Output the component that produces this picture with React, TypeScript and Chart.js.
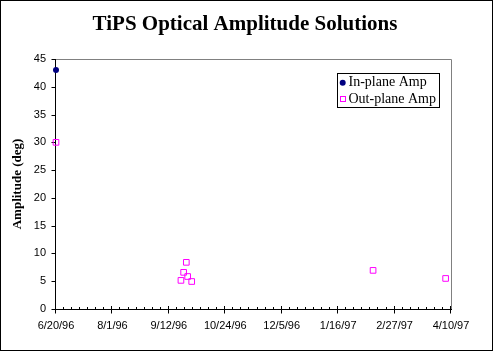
import React, { useEffect, useRef } from 'react';
import { Chart, registerables } from 'chart.js';

Chart.register(...registerables);

const titleText = 'TiPS Optical Amplitude Solutions';
const yAxisTitle = 'Amplitude (deg)';
const xTickLabels = ['6/20/96', '8/1/96', '9/12/96', '10/24/96', '12/5/96', '1/16/97', '2/27/97', '4/10/97'];
const yMin = 0;
const yMax = 45;
const yStep = 5;
const xMajorDays = 42;
const xMinorDays = 6;

const inPlaneLabel = 'In-plane Amp';
const inPlaneDates = ['6/20/96'];
const inPlaneAmp = [43];

const outPlaneLabel = 'Out-plane Amp';
const outPlaneDates = ['6/20/96', '9/21/96', '9/23/96', '9/25/96', '9/26/96', '9/29/96', '2/11/97', '4/6/97'];
const outPlaneAmp = [30, 5.15, 6.6, 8.4, 5.85, 4.95, 6.95, 5.5];

const IN_COLOR = '#000080';
const OUT_COLOR = '#FF00FF';

function toUTC(s: string): number {
  const [m, d, y] = s.split('/').map(Number);
  return Date.UTC(1900 + y, m - 1, d);
}
const baseUTC = toUTC(xTickLabels[0]);
function dayIndex(s: string): number {
  return Math.round((toUTC(s) - baseUTC) / 86400000);
}

const serif = '"Liberation Serif", "Times New Roman", serif';
const sans = '"Liberation Sans", Arial, sans-serif';

const decorPlugin = {
  id: 'decor',
  beforeDatasetsDraw(chart: any) {
    const { ctx, chartArea: a, scales } = chart;
    const x = scales.x;
    const y = scales.y;
    ctx.save();
    ctx.lineWidth = 1;
    // gray frame top & right
    ctx.strokeStyle = '#808080';
    ctx.beginPath();
    ctx.moveTo(a.left, Math.round(a.top) + 0.5);
    ctx.lineTo(Math.round(a.right) + 0.5, Math.round(a.top) + 0.5);
    ctx.lineTo(Math.round(a.right) + 0.5, Math.round(a.bottom));
    ctx.stroke();
    // axes
    ctx.strokeStyle = '#000';
    const lx = Math.round(a.left) - 0.5;
    const by = Math.round(a.bottom) + 0.5;
    ctx.beginPath();
    ctx.moveTo(lx, Math.round(a.top));
    ctx.lineTo(lx, by);
    ctx.lineTo(Math.round(a.right) + 1, by);
    ctx.stroke();
    // y ticks
    ctx.beginPath();
    for (let v = yMin; v <= yMax; v += yStep) {
      const py = Math.round(y.getPixelForValue(v)) + 0.5;
      ctx.moveTo(lx - 4, py);
      ctx.lineTo(lx, py);
    }
    // x ticks
    const maxDay = (xTickLabels.length - 1) * xMajorDays;
    for (let d = 0; d <= maxDay; d += xMinorDays) {
      const px = Math.round(x.getPixelForValue(d)) - 0.5;
      if (d % xMajorDays === 0) {
        ctx.moveTo(px, by - 3.5);
        ctx.lineTo(px, by + 4);
      } else {
        ctx.moveTo(px, by - 2.5);
        ctx.lineTo(px, by);
      }
    }
    ctx.stroke();
    ctx.restore();
  },
  afterDraw(chart: any) {
    const { ctx, width, height } = chart;
    ctx.save();
    // outer border
    ctx.strokeStyle = '#000';
    ctx.lineWidth = 1;
    ctx.strokeRect(0.5, 0.5, width - 1, height - 1);
    // title
    ctx.fillStyle = '#000';
    ctx.font = `bold 21px ${serif}`;
    ctx.textAlign = 'center';
    ctx.textBaseline = 'alphabetic';
    ctx.fillText(titleText, 245, 30);
    // y axis title
    ctx.save();
    ctx.translate(21, 184);
    ctx.rotate(-Math.PI / 2);
    ctx.font = `bold 13px ${serif}`;
    ctx.textAlign = 'center';
    ctx.fillText(yAxisTitle, 0, 0);
    ctx.restore();
    // legend
    ctx.fillStyle = '#fff';
    ctx.fillRect(338, 74, 101, 33);
    ctx.strokeStyle = '#000';
    ctx.strokeRect(337.5, 73.5, 102, 34);
    ctx.fillStyle = IN_COLOR;
    ctx.beginPath();
    ctx.arc(342.7, 82.7, 3, 0, Math.PI * 2);
    ctx.fill();
    ctx.strokeStyle = OUT_COLOR;
    ctx.strokeRect(340.5, 96.5, 5, 5);
    ctx.fillStyle = '#000';
    ctx.font = `14px ${serif}`;
    ctx.textAlign = 'left';
    ctx.fillText(inPlaneLabel, 348.5, 86);
    ctx.fillText(outPlaneLabel, 348.5, 102.5);
    ctx.restore();
  },
};

export default function App() {
  const canvasRef = useRef<HTMLCanvasElement | null>(null);

  useEffect(() => {
    const canvas = canvasRef.current;
    if (!canvas) return;
    const chart = new Chart(canvas, {
      type: 'scatter',
      data: {
        datasets: [
          {
            label: inPlaneLabel,
            data: inPlaneDates.map((d, i) => ({ x: dayIndex(d), y: inPlaneAmp[i] })),
            pointStyle: 'circle',
            pointRadius: 3,
            pointBackgroundColor: IN_COLOR,
            pointBorderColor: IN_COLOR,
            pointBorderWidth: 0,
            showLine: false,
            clip: false,
          },
          {
            label: outPlaneLabel,
            data: outPlaneDates.map((d, i) => ({ x: dayIndex(d), y: outPlaneAmp[i] })),
            pointStyle: 'rect',
            pointRadius: 4,
            pointBackgroundColor: 'rgba(0,0,0,0)',
            pointBorderColor: OUT_COLOR,
            pointBorderWidth: 1,
            showLine: false,
            clip: false,
          },
        ],
      } as any,
      options: {
        animation: false,
        responsive: false,
        maintainAspectRatio: false,
        layout: { padding: { top: 59, right: 42, bottom: 0, left: 0 } },
        plugins: {
          legend: { display: false },
          title: { display: false },
          tooltip: { enabled: false },
        },
        scales: {
          x: {
            type: 'linear',
            min: 0,
            max: (xTickLabels.length - 1) * xMajorDays,
            grid: { display: false, drawTicks: false },
            border: { display: false },
            afterFit: (s: any) => { s.height = 42; },
            ticks: {
              stepSize: xMajorDays,
              autoSkip: false,
              maxRotation: 0,
              padding: 10,
              color: '#000',
              font: { family: sans, size: 11 },
              callback: (v: any) => xTickLabels[Math.round(Number(v) / xMajorDays)] ?? '',
            },
          },
          y: {
            type: 'linear',
            min: yMin,
            max: yMax,
            grid: { display: false, drawTicks: false },
            border: { display: false },
            afterFit: (s: any) => { s.width = 56; },
            ticks: {
              stepSize: yStep,
              padding: 10,
              color: '#000',
              font: { family: sans, size: 11 },
            },
          },
        },
      } as any,
      plugins: [decorPlugin],
    });
    return () => chart.destroy();
  }, []);

  return (
    <div style={{ position: 'absolute', left: 0, top: 0, width: 493, height: 351, background: '#fff' }}>
      <canvas ref={canvasRef} width={493} height={351} style={{ display: 'block', width: 493, height: 351 }} />
    </div>
  );
}
